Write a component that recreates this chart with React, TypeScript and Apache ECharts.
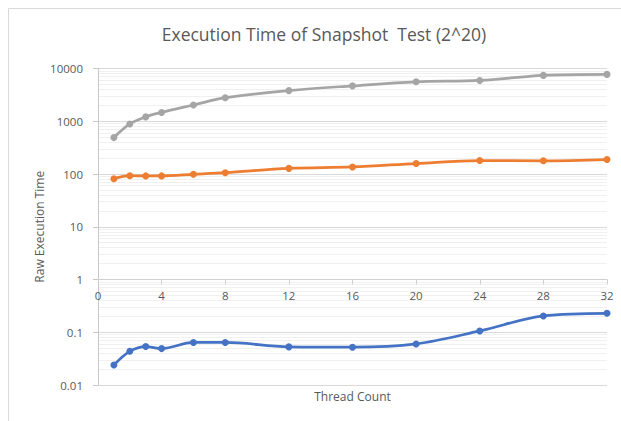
import React, { useEffect, useRef } from "react";
import * as echarts from "echarts";

const threads = [1, 2, 3, 4, 6, 8, 12, 16, 20, 24, 28, 32];
const grayValues = [490, 890, 1210, 1470, 2030, 2800, 3810, 4690, 5600, 5930, 7400, 7730];
const orangeValues = [81.5, 93, 92, 92, 98.6, 106, 128, 136, 158, 180, 178, 188];
const blueValues = [0.024, 0.0435, 0.0536, 0.049, 0.064, 0.064, 0.0528, 0.052, 0.06, 0.106, 0.204, 0.229];

const chartTitle = "Execution Time of Snapshot  Test (2^20)";
const xName = "Thread Count";
const yName = "Raw Execution Time";

const minorGridValues: number[] = [];
for (let e = -2; e < 4; e++) {
  for (let m = 2; m <= 9; m++) {
    minorGridValues.push(Number((m * Math.pow(10, e)).toPrecision(3)));
  }
}

const FONT = "Open Sans";
const TEXT = "#595959";

function pairs(values: number[]) {
  return threads.map((t, i) => [t, values[i]]);
}

export default function App() {
  const ref = useRef<HTMLDivElement>(null);
  useEffect(() => {
    if (!ref.current) return;
    const chart = echarts.init(ref.current, undefined, { renderer: "svg" });
    const lineSeries = (name: string, color: string, values: number[], extra: any = {}) => ({
      type: "line",
      name,
      xAxisIndex: 0,
      yAxisIndex: 0,
      data: pairs(values),
      smooth: 0.35,
      symbol: "circle",
      symbolSize: 7,
      z: 3,
      lineStyle: { color, width: 2.75 },
      itemStyle: { color },
      ...extra,
    });
    chart.setOption({
      animation: false,
      backgroundColor: "#ffffff",
      textStyle: { fontFamily: FONT },
      graphic: [
        {
          type: "rect",
          z: -10,
          shape: { x: 8.5, y: 8.5, width: 800, height: 600 },
          style: { fill: "none", stroke: "#d9d9d9", lineWidth: 1 },
        },
      ],
      title: {
        text: chartTitle,
        left: 319,
        top: 20,
        textAlign: "center",
        textStyle: { fontFamily: FONT, fontSize: 17.5, fontWeight: "normal", color: TEXT },
      },
      grid: [
        { left: 98, right: 14, top: 68.5, bottom: 36, containLabel: false, outerBoundsMode: "none" },
        { left: 98, right: 14, top: 68.5, height: 211, containLabel: false, outerBoundsMode: "none" },
      ],
      xAxis: [
        {
          gridIndex: 0,
          type: "value",
          min: 0,
          max: 32,
          interval: 4,
          position: "bottom",
          axisLine: { show: false },
          axisTick: { show: false },
          axisLabel: { show: false },
          splitLine: { show: false },
          name: xName,
          nameLocation: "middle",
          nameGap: 5,
          nameTextStyle: { color: TEXT, fontSize: 12, fontFamily: FONT },
        },
        {
          gridIndex: 1,
          type: "value",
          min: 0,
          max: 32,
          interval: 4,
          position: "bottom",
          z: 2,
          axisLine: { show: true, onZero: false, lineStyle: { color: "#d0d0d0", width: 1 } },
          axisTick: { show: true, length: 5, lineStyle: { color: "#d0d0d0" } },
          axisLabel: { color: TEXT, fontSize: 11.5, fontFamily: FONT, margin: 10, showMinLabel: true, showMaxLabel: true },
          splitLine: { show: false },
        },
      ],
      yAxis: [
        {
          gridIndex: 0,
          type: "log",
          logBase: 10,
          min: 0.01,
          max: 10000,
          splitNumber: 6,
          name: yName,
          nameLocation: "middle",
          nameGap: 53,
          nameMoveOverlap: false,
          nameTextStyle: { color: TEXT, fontSize: 12, fontFamily: FONT },
          axisLine: { show: true, lineStyle: { color: "#c8c8c8", width: 1 } },
          axisTick: { show: true, length: 5, lineStyle: { color: "#c8c8c8" } },
          axisLabel: {
            color: TEXT,
            fontSize: 11.5,
            fontFamily: FONT,
            margin: 15,
            formatter: (v: number) => String(Number(v.toPrecision(4))),
          },
          splitLine: { show: true, lineStyle: { color: "#d9d9d9", width: 1 } },
          minorSplitLine: { show: false },
        },
        {
          gridIndex: 1,
          type: "value",
          min: 0,
          max: 1,
          show: false,
        },
      ],
      series: [
        lineSeries("Series 3", "#A5A5A5", grayValues, {
          markLine: {
            silent: true,
            z: -1,
            symbol: ["none", "none"],
            label: { show: false },
            emphasis: { disabled: true },
            animation: false,
            lineStyle: { color: "#f0f0f0", type: "solid", width: 1 },
            data: minorGridValues.map((v) => ({ yAxis: v })),
          },
        }),
        lineSeries("Series 2", "#ED7D31", orangeValues),
        lineSeries("Series 1", "#4472C4", blueValues),
      ],
    });
    return () => chart.dispose();
  }, []);
  return (
    <div
      ref={ref}
      style={{ position: "fixed", left: 0, top: 0, width: 621, height: 421, overflow: "hidden", background: "#fff" }}
    />
  );
}
